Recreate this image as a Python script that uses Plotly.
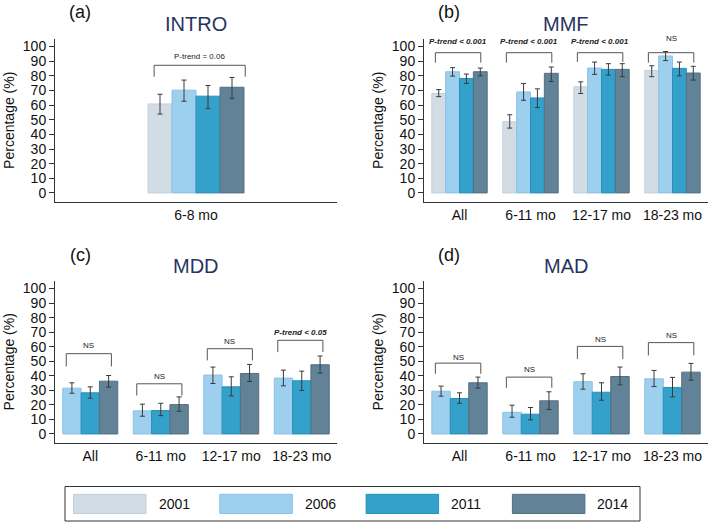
import plotly.graph_objects as go

# ---------------- data ----------------
years = ["2001", "2006", "2011", "2014"]
age_cats = ["All", "6-11 mo", "12-17 mo", "18-23 mo"]
intro_cats = ["6-8 mo"]

# INTRO (6-8 mo)
intro_2001 = [60.8]; intro_2001_lo = [53.9]; intro_2001_hi = [67.4]
intro_2006 = [70.2]; intro_2006_lo = [62.6]; intro_2006_hi = [77.1]
intro_2011 = [66.1]; intro_2011_lo = [57.6]; intro_2011_hi = [73.4]
intro_2014 = [72.2]; intro_2014_lo = [64.7]; intro_2014_hi = [78.9]

# MMF
mmf_2001 = [67.9, 48.6, 72.5, 83.7]; mmf_2001_lo = [65.8, 44.3, 67.9, 79.4]; mmf_2001_hi = [70.6, 53.4, 75.9, 86.9]
mmf_2006 = [82.8, 69.0, 85.3, 93.6]; mmf_2006_lo = [79.8, 63.3, 81.0, 90.4]; mmf_2006_hi = [85.6, 74.8, 89.4, 96.6]
mmf_2011 = [78.2, 64.9, 84.4, 85.1]; mmf_2011_lo = [74.8, 58.3, 80.5, 80.0]; mmf_2011_hi = [81.2, 71.1, 88.3, 89.4]
mmf_2014 = [82.8, 81.7, 84.4, 81.9]; mmf_2014_lo = [80.0, 76.1, 79.4, 77.1]; mmf_2014_hi = [85.3, 86.0, 88.3, 86.5]

# MDD
mdd_2006 = [31.5, 15.9, 40.5, 38.4]; mdd_2006_lo = [28.0, 12.2, 34.7, 33.1]; mdd_2006_hi = [35.2, 20.5, 46.0, 43.9]
mdd_2011 = [28.3, 16.1, 32.4, 36.6]; mdd_2011_lo = [24.6, 12.6, 26.2, 29.9]; mdd_2011_hi = [32.4, 21.1, 39.3, 43.2]
mdd_2014 = [36.3, 20.2, 41.6, 47.6]; mdd_2014_lo = [32.2, 15.6, 36.1, 41.8]; mdd_2014_hi = [40.2, 25.5, 47.8, 53.6]

# MAD
mad_2006 = [29.4, 14.9, 35.9, 37.9]; mad_2006_lo = [26.0, 11.5, 30.8, 32.6]; mad_2006_hi = [32.9, 19.8, 41.4, 43.7]
mad_2011 = [24.4, 13.6, 28.7, 32.0]; mad_2011_lo = [21.1, 9.7, 23.2, 25.5]; mad_2011_hi = [28.3, 18.2, 35.2, 38.9]
mad_2014 = [35.2, 22.8, 39.5, 42.5]; mad_2014_lo = [31.5, 16.8, 33.8, 37.0]; mad_2014_hi = [39.1, 29.0, 46.0, 48.5]

# significance brackets: (bracket top, leg bottom, label y, label, bold-italic?)
intro_brackets = [(87.2, 79.4, 92.9, "P-trend = 0.06", False)]
mmf_brackets = [(95.8, 89.0, 103.4, "P-trend < 0.001", True),
                (95.8, 89.0, 103.4, "P-trend < 0.001", True),
                (95.8, 89.5, 103.4, "P-trend < 0.001", True),
                (95.8, 89.0, 105.4, "NS", False)]
mdd_brackets = [(55.2, 46.4, 60.5, "NS", False),
                (34.5, 26.4, 39.8, "NS", False),
                (58.6, 50.6, 63.9, "NS", False),
                (64.4, 56.3, 70.1, "P-trend < 0.05", True)]
mad_brackets = [(48.7, 41.4, 52.4, "NS", False),
                (39.1, 31.7, 44.4, "NS", False),
                (60.2, 51.5, 65.0, "NS", False),
                (62.8, 54.0, 67.4, "NS", False)]

# ---------------- styling ----------------
fill = {"2001": "#d2dce5", "2006": "#9dcfee", "2011": "#34a1cb", "2014": "#628297"}
edge = {"2001": "#c3cfda", "2006": "#8cc2e4", "2011": "#2a8fb8", "2014": "#556f82"}
FONT = "Liberation Sans, Arial, sans-serif"
TITLE_COLOR = "#26355f"
W, H = 709, 524

fig = go.Figure()

panels = [
    ("", intro_cats, {"2001": (intro_2001, intro_2001_lo, intro_2001_hi),
                      "2006": (intro_2006, intro_2006_lo, intro_2006_hi),
                      "2011": (intro_2011, intro_2011_lo, intro_2011_hi),
                      "2014": (intro_2014, intro_2014_lo, intro_2014_hi)},
     intro_brackets, "INTRO", "(a)", (55, 337), (202, 38.5), (-0.34, 0.40)),
    ("2", age_cats, {"2001": (mmf_2001, mmf_2001_lo, mmf_2001_hi),
                     "2006": (mmf_2006, mmf_2006_lo, mmf_2006_hi),
                     "2011": (mmf_2011, mmf_2011_lo, mmf_2011_hi),
                     "2014": (mmf_2014, mmf_2014_lo, mmf_2014_hi)},
     mmf_brackets, "MMF", "(b)", (424, 708), (202, 38.5), (-0.34, 0.30)),
    ("3", age_cats, {"2006": (mdd_2006, mdd_2006_lo, mdd_2006_hi),
                     "2011": (mdd_2011, mdd_2011_lo, mdd_2011_hi),
                     "2014": (mdd_2014, mdd_2014_lo, mdd_2014_hi)},
     mdd_brackets, "MDD", "(c)", (55, 337), (443, 280.5), (-0.34, 0.30)),
    ("4", age_cats, {"2006": (mad_2006, mad_2006_lo, mad_2006_hi),
                     "2011": (mad_2011, mad_2011_lo, mad_2011_hi),
                     "2014": (mad_2014, mad_2014_lo, mad_2014_hi)},
     mad_brackets, "MAD", "(d)", (424, 708), (443, 280.5), (-0.34, 0.30)),
]

shapes = []
annotations = []
layout_axes = {}
bargap = 0.22

for suffix, cats, series, brackets, title, letter, xpx, ypx, bext in panels:
    xa = "x" + suffix
    ya = "y" + suffix
    for yr, (vals, lo, hi) in series.items():
        fig.add_trace(go.Bar(
            x=cats, y=vals, name=yr, xaxis=xa, yaxis=ya,
            marker=dict(color=fill[yr], line=dict(color=edge[yr], width=1)),
            error_y=dict(type="data", symmetric=False,
                         array=[h - v for h, v in zip(hi, vals)],
                         arrayminus=[v - l for v, l in zip(vals, lo)],
                         color="#3a3a3a", thickness=1, width=2.5),
            showlegend=False, offsetgroup=yr,
        ))
    if len(cats) == 1:
        half = (xpx[1] - xpx[0]) / (96 / (1 - bargap)) / 2
        xrange = [-half, half]
    else:
        xrange = [-0.5, len(cats) - 0.5]
    layout_axes["xaxis" + suffix] = dict(
        domain=[xpx[0] / W, xpx[1] / W], anchor=ya, type="category",
        range=xrange, showline=True, linecolor="#333", linewidth=1,
        showgrid=False, zeroline=False, ticks="",
        tickfont=dict(size=14, color="#111", family=FONT),
    )
    layout_axes["yaxis" + suffix] = dict(
        domain=[1 - ypx[0] / H, 1 - ypx[1] / H], anchor=xa,
        range=[-6.2, 105.5], tickvals=list(range(0, 101, 10)),
        showline=True, linecolor="#333", linewidth=1,
        ticks="outside", ticklen=5, tickcolor="#333",
        showgrid=False, zeroline=False,
        tickfont=dict(size=14, color="#111", family=FONT),
        title=dict(text="Percentage (%)", font=dict(size=14, color="#111", family=FONT), standoff=4),
    )
    for i, (top, leg, ly, label, bi) in enumerate(brackets):
        x0, x1 = i + bext[0], i + bext[1]
        shapes.append(dict(type="path", xref=xa, yref=ya,
                           path=f"M {x0},{leg} L {x0},{top} L {x1},{top} L {x1},{leg}",
                           line=dict(color="#555", width=1)))
        txt = label.replace("<", "&lt;")
        if bi:
            txt = "<b><i>" + txt + "</i></b>"
        annotations.append(dict(xref=xa, yref=ya, x=(x0 + x1) / 2, y=ly, text=txt,
                                showarrow=False, font=dict(size=8, color="#222", family=FONT),
                                xanchor="center", yanchor="middle"))
    cx = (xpx[0] + xpx[1]) / 2
    annotations.append(dict(xref="paper", yref="paper", x=cx / W, y=1 - (ypx[1] - 15) / H,
                            text=title, showarrow=False,
                            font=dict(size=20, color=TITLE_COLOR, family=FONT),
                            xanchor="center", yanchor="middle"))
    annotations.append(dict(xref="paper", yref="paper", x=(xpx[0] + 25) / W, y=1 - (ypx[1] - 26) / H,
                            text=letter, showarrow=False,
                            font=dict(size=18, color="#111", family=FONT),
                            xanchor="center", yanchor="middle"))

# manual legend
shapes.append(dict(type="rect", xref="paper", yref="paper",
                   x0=65 / W, x1=640 / W, y0=1 - 521 / H, y1=1 - 486.5 / H,
                   line=dict(color="#333", width=1), fillcolor="white"))
for i, yr in enumerate(years):
    sx0 = 73.5 + i * 146.3
    shapes.append(dict(type="rect", xref="paper", yref="paper",
                       x0=sx0 / W, x1=(sx0 + 72.5) / W, y0=1 - 513.5 / H, y1=1 - 494.3 / H,
                       line=dict(color=edge[yr], width=1), fillcolor=fill[yr]))
    annotations.append(dict(xref="paper", yref="paper", x=(sx0 + 83) / W, y=1 - 504 / H,
                            text=yr, showarrow=False, xanchor="left", yanchor="middle",
                            font=dict(size=14, color="#111", family=FONT)))

fig.update_layout(
    width=W, height=H,
    margin=dict(l=0, r=0, t=0, b=0),
    paper_bgcolor="white", plot_bgcolor="white",
    barmode="group", bargap=bargap, bargroupgap=0,
    showlegend=False,
    font=dict(family=FONT),
    shapes=shapes, annotations=annotations,
    **layout_axes,
)

fig.write_html("out.html",
               config={"displayModeBar": False, "staticPlot": True},
               post_script="document.body.style.margin='0';document.body.style.overflow='hidden';")
